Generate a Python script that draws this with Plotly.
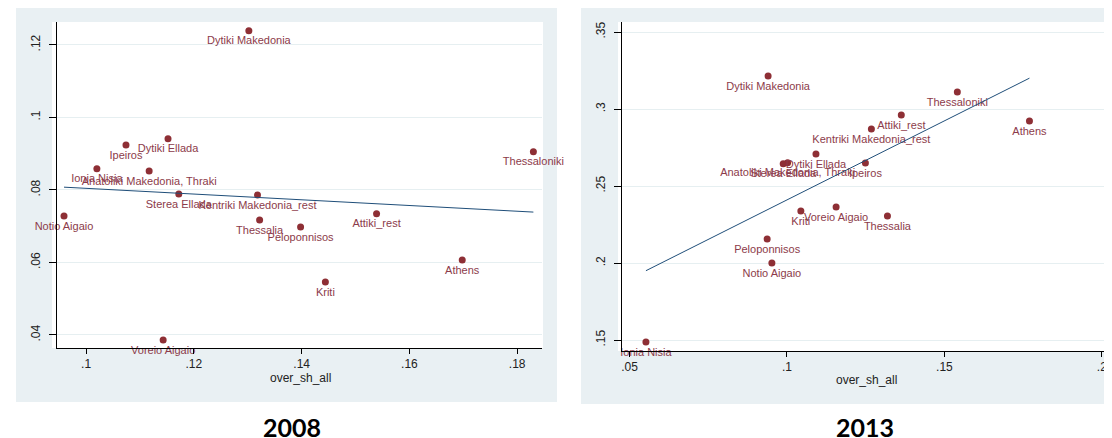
import numpy as np
import plotly.graph_objects as go

# page is 1112x438; the html body adds an 8px margin at the top-left
OFF = 8
W, H = 1112 - OFF, 438 - OFF

# ---------------- data ----------------
regions_2008 = ["Dytiki Makedonia", "Ipeiros", "Dytiki Ellada", "Ionia Nisia",
                "Anatoliki Makedonia, Thraki", "Sterea Ellada", "Kentriki Makedonia_rest",
                "Notio Aigaio", "Thessalia", "Peloponnisos", "Attiki_rest", "Athens",
                "Kriti", "Voreio Aigaio", "Thessaloniki"]
x_2008 = [0.1302, 0.1074, 0.1152, 0.1020, 0.1117, 0.1172, 0.1318, 0.0959,
          0.1322, 0.1398, 0.1539, 0.1698, 0.1444, 0.1143, 0.1830]
y_2008 = [0.1239, 0.0924, 0.0941, 0.0858, 0.0852, 0.0789, 0.0786, 0.0728,
          0.0717, 0.0698, 0.0734, 0.0607, 0.0546, 0.0386, 0.0905]

regions_2013 = ["Dytiki Makedonia", "Thessaloniki", "Athens", "Attiki_rest",
                "Kentriki Makedonia_rest", "Dytiki Ellada", "Anatoliki Makedonia, Thraki",
                "Sterea Ellada", "Ipeiros", "Kriti", "Voreio Aigaio", "Thessalia",
                "Peloponnisos", "Notio Aigaio", "Ionia Nisia"]
x_2013 = [0.0940, 0.1541, 0.1770, 0.1363, 0.1268, 0.1092, 0.1002, 0.0988,
          0.1249, 0.1044, 0.1156, 0.1319, 0.0937, 0.0952, 0.0552]
y_2013 = [0.3214, 0.3110, 0.2922, 0.2961, 0.2870, 0.2708, 0.2652, 0.2645,
          0.2649, 0.2338, 0.2364, 0.2305, 0.2156, 0.2000, 0.1487]

xticks_2008 = [0.10, 0.12, 0.14, 0.16, 0.18]
xticktext_2008 = [".1", ".12", ".14", ".16", ".18"]
yticks_2008 = [0.04, 0.06, 0.08, 0.10, 0.12]
yticktext_2008 = [".04", ".06", ".08", ".1", ".12"]

xticks_2013 = [0.05, 0.10, 0.15, 0.20]
xticktext_2013 = [".05", ".1", ".15", ".2"]
yticks_2013 = [0.15, 0.20, 0.25, 0.30, 0.35]
yticktext_2013 = [".15", ".2", ".25", ".3", ".35"]

panel_titles = ["2008", "2013"]
x_title = "over_sh_all"

# ---------------- styling ----------------
MARKER = "#8e2f35"
LABEL = "#8c3b4a"
FIT = "#1f4e79"
BG = "#e9f0f3"
GRID = "#e6eff1"
FONT = "Liberation Sans"


def px_x(p):
    return (p - OFF) / W


def px_y(p):
    return 1 - (p - OFF) / H


fig = go.Figure()


def add_panel(xs, ys, names, xa, ya):
    xs = np.array(xs)
    ys = np.array(ys)
    fig.add_trace(go.Scatter(
        x=xs, y=ys, mode="markers+text", text=names,
        textposition="bottom center", cliponaxis=False,
        textfont=dict(family=FONT, size=11, color=LABEL),
        marker=dict(color=MARKER, size=7),
        xaxis=xa, yaxis=ya, showlegend=False, hoverinfo="skip"))
    b, a = np.polyfit(xs, ys, 1)
    lx = np.array([xs.min(), xs.max()])
    fig.add_trace(go.Scatter(
        x=lx, y=a + b * lx, mode="lines",
        line=dict(color=FIT, width=1),
        xaxis=xa, yaxis=ya, showlegend=False, hoverinfo="skip"))


add_panel(x_2008, y_2008, regions_2008, "x", "y")
add_panel(x_2013, y_2013, regions_2013, "x2", "y2")

axis_common = dict(showline=True, linecolor="black", linewidth=1,
                   ticks="outside", tickcolor="black",
                   tickfont=dict(family=FONT, size=12, color="#222"),
                   zeroline=False)

fig.update_layout(
    width=W, height=H,
    margin=dict(l=0, r=0, t=0, b=0),
    paper_bgcolor="white", plot_bgcolor="white",
    xaxis=dict(domain=[px_x(57), px_x(542)], range=[0.0946, 0.1846],
               tickvals=xticks_2008, ticktext=xticktext_2008, showgrid=False,
               ticklen=5, anchor="y", **axis_common),
    yaxis=dict(domain=[px_y(348), px_y(22)], range=[0.0364, 0.1263],
               tickvals=yticks_2008, ticktext=yticktext_2008, tickangle=-90,
               showgrid=True, gridcolor=GRID, gridwidth=1, ticklen=7,
               ticklabelstandoff=4, anchor="x", **axis_common),
    xaxis2=dict(domain=[px_x(622), px_x(1111)], range=[0.0476, 0.2029],
                tickvals=xticks_2013, ticktext=xticktext_2013, showgrid=False,
                ticklen=5, anchor="y2", **axis_common),
    yaxis2=dict(domain=[px_y(351), px_y(22)], range=[0.1429, 0.3565],
                tickvals=yticks_2013, ticktext=yticktext_2013, tickangle=-90,
                showgrid=True, gridcolor=GRID, gridwidth=1, ticklen=7,
                ticklabelstandoff=4, anchor="x2", **axis_common),
)

# panel backgrounds
shapes = [
    dict(type="rect", xref="paper", yref="paper", x0=px_x(16), x1=px_x(557),
         y0=px_y(402), y1=px_y(8), fillcolor=BG, line=dict(width=0), layer="below"),
    dict(type="rect", xref="paper", yref="paper", x0=px_x(52), x1=px_x(543),
         y0=px_y(348), y1=px_y(22), fillcolor="white", line=dict(width=0), layer="below"),
    dict(type="rect", xref="paper", yref="paper", x0=px_x(581), x1=px_x(1112),
         y0=px_y(404), y1=px_y(8), fillcolor=BG, line=dict(width=0), layer="below"),
    dict(type="rect", xref="paper", yref="paper", x0=px_x(618), x1=px_x(1112),
         y0=px_y(351), y1=px_y(22), fillcolor="white", line=dict(width=0), layer="below"),
]
fig.update_layout(shapes=shapes)

annotations = [
    dict(text=x_title, xref="paper", yref="paper", x=px_x(300), y=px_y(378),
         xanchor="center", yanchor="middle",
         showarrow=False, font=dict(family=FONT, size=12, color="#222")),
    dict(text=x_title, xref="paper", yref="paper", x=px_x(866), y=px_y(380),
         xanchor="center", yanchor="middle",
         showarrow=False, font=dict(family=FONT, size=12, color="#222")),
    dict(text="<b>%s</b>" % panel_titles[0], xref="paper", yref="paper",
         x=px_x(292), y=px_y(427), xanchor="center", yanchor="middle",
         showarrow=False, font=dict(family="Lato", size=25, color="black")),
    dict(text="<b>%s</b>" % panel_titles[1], xref="paper", yref="paper",
         x=px_x(865), y=px_y(427), xanchor="center", yanchor="middle",
         showarrow=False, font=dict(family="Lato", size=25, color="black")),
]
fig.update_layout(annotations=annotations)

fig.write_html("out.html")
